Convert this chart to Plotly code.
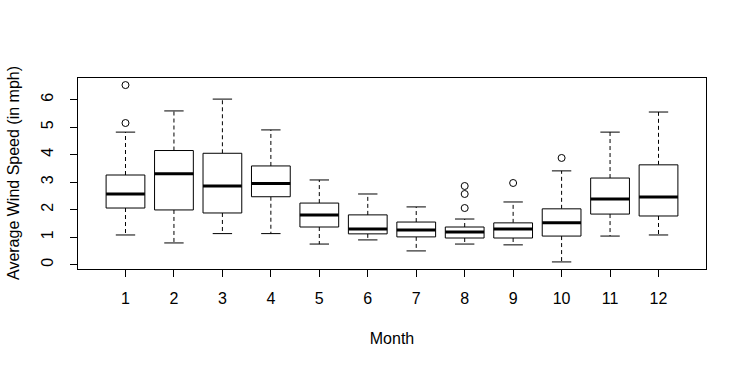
import plotly.graph_objects as go

months = [1, 2, 3, 4, 5, 6, 7, 8, 9, 10, 11, 12]
lower_whisker = [1.08, 0.79, 1.13, 1.13, 0.75, 0.90, 0.50, 0.75, 0.72, 0.10, 1.04, 1.08]
q1 = [2.06, 1.99, 1.88, 2.47, 1.37, 1.12, 1.01, 0.97, 0.97, 1.04, 1.84, 1.77]
median = [2.57, 3.31, 2.86, 2.95, 1.81, 1.30, 1.26, 1.19, 1.30, 1.52, 2.39, 2.46]
q3 = [3.26, 4.15, 4.05, 3.59, 2.24, 1.81, 1.55, 1.37, 1.52, 2.03, 3.15, 3.63]
upper_whisker = [4.82, 5.59, 6.02, 4.90, 3.08, 2.57, 2.10, 1.66, 2.28, 3.41, 4.82, 5.55]
outlier_month = [1, 1, 8, 8, 8, 9, 10]
outlier_value = [6.53, 5.15, 2.86, 2.57, 2.06, 2.97, 3.88]
y_ticks = [0, 1, 2, 3, 4, 5, 6]

HALF_BOX = 0.4
HALF_CAP = 0.2

bx, by, mx, my, wx, wy, cx, cy = [], [], [], [], [], [], [], []
for m, lo, a, md, b, hi in zip(months, lower_whisker, q1, median, q3, upper_whisker):
    bx += [m - HALF_BOX, m + HALF_BOX, m + HALF_BOX, m - HALF_BOX, m - HALF_BOX, None]
    by += [a, a, b, b, a, None]
    mx += [m - HALF_BOX, m + HALF_BOX, None]
    my += [md, md, None]
    wx += [m, m, None, m, m, None]
    wy += [b, hi, None, a, lo, None]
    cx += [m - HALF_CAP, m + HALF_CAP, None, m - HALF_CAP, m + HALF_CAP, None]
    cy += [hi, hi, None, lo, lo, None]

fig = go.Figure()
fig.add_trace(go.Scatter(x=wx, y=wy, mode="lines", line=dict(color="black", width=1, dash="4px,3px"), hoverinfo="skip"))
fig.add_trace(go.Scatter(x=cx, y=cy, mode="lines", line=dict(color="black", width=1), hoverinfo="skip"))
fig.add_trace(go.Scatter(x=bx, y=by, mode="lines", fill="toself", fillcolor="white", line=dict(color="black", width=1), hoverinfo="skip"))
fig.add_trace(go.Scatter(x=mx, y=my, mode="lines", line=dict(color="black", width=3), hoverinfo="skip"))
fig.add_trace(go.Scatter(x=outlier_month, y=outlier_value, mode="markers",
                         marker=dict(symbol="circle-open", size=7, color="black", line=dict(width=1)), hoverinfo="skip"))

all_vals = lower_whisker + upper_whisker + outlier_value
lo_v, hi_v = min(all_vals), max(all_vals)
ext = (hi_v - lo_v) * 0.04
xext = (len(months)) * 0.04

font = "Liberation Sans, Arial, sans-serif"
fig.update_layout(
    width=746, height=367,
    margin=dict(l=78, r=40, t=78, b=98),
    paper_bgcolor="white", plot_bgcolor="white",
    showlegend=False,
    font=dict(family=font, size=16, color="black"),
    xaxis=dict(range=[0.5 - xext, len(months) + 0.5 + xext], tickvals=months, ticktext=[str(m) for m in months],
               showgrid=False, zeroline=False, showline=True, mirror=True, linecolor="black", linewidth=1,
               ticks="outside", ticklen=7, tickcolor="black", tickwidth=1,
               tickfont=dict(family=font, size=16, color="black"), ticklabelstandoff=8,
               title=dict(text="Month", font=dict(family=font, size=16, color="black"), standoff=26)),
    yaxis=dict(range=[lo_v - ext, hi_v + ext], tickvals=y_ticks, ticktext=[str(t) for t in y_ticks],
               showgrid=False, zeroline=False, showline=True, mirror=True, linecolor="black", linewidth=1,
               ticks="outside", ticklen=7, tickcolor="black", tickwidth=1, tickangle=-90,
               tickfont=dict(family=font, size=16, color="black"), ticklabelstandoff=11),
    annotations=[dict(text="Average Wind Speed (in mph)", textangle=-90, xref="paper", yref="paper",
                      x=(13.5 - 78) / 628, y=0.5, xanchor="center", yanchor="middle", showarrow=False,
                      font=dict(family=font, size=16, color="black"))],
)
fig.write_html("out.html", config={"displayModeBar": False},
               post_script="document.body.style.margin='0';document.body.style.padding='0';")
